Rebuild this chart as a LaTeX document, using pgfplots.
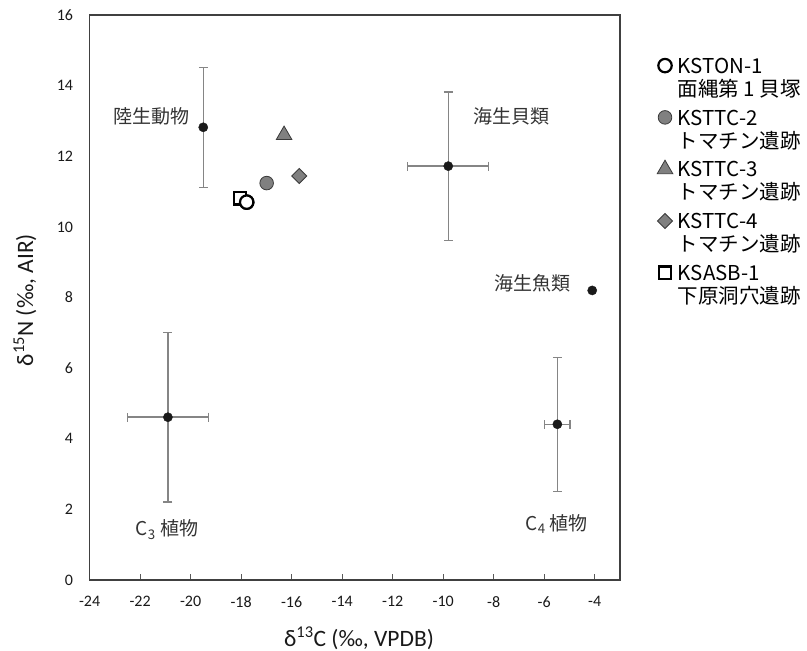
\documentclass[border=0pt]{standalone}
\usepackage{fontspec}
\setmainfont{Carlito}
\newfontfamily\jp{Noto Sans CJK JP}
\usepackage{pgfplots}
\pgfplotsset{compat=1.18}
\definecolor{mkgray}{HTML}{808080}
\definecolor{ebgray}{HTML}{858585}
\definecolor{edge}{HTML}{3A3A3A}
\definecolor{dotc}{HTML}{1A1A1A}
\pgfplotsset{
  mymarks/.style={only marks,
    legend image code/.code={\draw[mark repeat=2,mark phase=2,##1] plot coordinates {(0pt,0pt)(7pt,0pt)(14pt,0pt)};}},
}
\begin{document}
\begin{tikzpicture}
\useasboundingbox (0,0) rectangle (807pt,651pt);
\begin{axis}[
  at={(89.6pt,71pt)}, anchor=south west,
  width=530.4pt, height=565pt, scale only axis,
  xmin=-24, xmax=-3, ymin=0, ymax=16,
  xtick={-24,-22,...,-4},
  xticklabels={-24,-22,-20,-18,-16,-14,-12,-10,-8,-6,-4},
  ytick={0,2,...,16},
  yticklabels={0,2,4,6,8,10,12,14,16},
  xtick pos=left, tick align=inside, major tick length=6pt,
  xtick style={draw=black!65, line width=1pt},
  ytick style={draw=none},
  axis line style={draw=black!75, line width=1.3pt},
  ticklabel style={font=\fontsize{16}{19}\selectfont, text=black!90},
  xticklabel style={yshift=-13pt},
  yticklabel style={xshift=-13pt},
  xlabel={δ\textsuperscript{13}C (‰, VPDB)},
  ylabel={δ\textsuperscript{15}N (‰, AIR)},
  label style={font=\fontsize{23.5}{27}\selectfont, text=black!90},
  xlabel style={at={(axis description cs:0.508,-0.1027)}, anchor=center},
  ylabel style={at={(axis description cs:-0.1218,0.4956)}, anchor=center},
  clip=false,
  legend style={draw=none, fill=none, at={(1.0698,0.927)}, anchor=north west,
    font=\jp\fontsize{20.5}{24}\selectfont, row sep=33.5pt, column sep=5pt,
    inner sep=0pt, nodes={inner sep=0pt}, cells={anchor=west}},
]
% error bars (both directions)
\addplot[only marks, mark=none, forget plot,
  error bars/.cd, x dir=both, x explicit, y dir=both, y explicit,
  error bar style={draw=ebgray, line width=1.5pt},
  error mark options={draw=ebgray, rotate=90, mark size=4.5pt, line width=1.3pt}]
  table[x=x, y=y, x error=ex, y error=ey] {
x y ex ey
-9.8 11.72 1.6 2.1
-20.9 4.61 1.6 2.4
-5.48 4.41 0.5 1.9
};
% error bars (y only)
\addplot[only marks, mark=none, forget plot,
  error bars/.cd, y dir=both, y explicit,
  error bar style={draw=ebgray, line width=1.5pt},
  error mark options={draw=ebgray, rotate=90, mark size=4.5pt, line width=1.3pt}]
  table[x=x, y=y, y error=ey] {
x y ey
-19.5 12.82 1.7
};
% reference group means
\addplot[only marks, mark=*, mark size=4.6pt, forget plot,
  mark options={fill=dotc, draw=dotc}]
  table {
x y
-19.5 12.82
-9.8 11.72
-4.1 8.2
-20.9 4.61
-5.48 4.41
};
% samples
\addplot[mymarks, mark=*, mark size=6.7pt,
  mark options={fill=white, draw=black, line width=2.2pt}]
  coordinates {(-17.78,10.70)};
\addlegendentry{\strut\rlap{KSTON-1}\raisebox{-23pt}[0pt][0pt]{面縄第 1 貝塚}}
\addplot[mymarks, mark=*, mark size=6.8pt,
  mark options={fill=mkgray, draw=edge, line width=0.8pt}]
  coordinates {(-16.99,11.24)};
\addlegendentry{\strut\rlap{KSTTC-2}\raisebox{-23pt}[0pt][0pt]{トマチン遺跡}}
\addplot[mymarks, mark=triangle*, mark size=9pt,
  mark options={fill=mkgray, draw=edge, line width=0.8pt}]
  coordinates {(-16.30,12.60)};
\addlegendentry{\strut\rlap{KSTTC-3}\raisebox{-23pt}[0pt][0pt]{トマチン遺跡}}
\addplot[mymarks, mark=square*, mark size=5.3pt,
  mark options={fill=mkgray, draw=edge, line width=0.8pt, rotate=45}]
  coordinates {(-15.70,11.44)};
\addlegendentry{\strut\rlap{KSTTC-4}\raisebox{-23pt}[0pt][0pt]{トマチン遺跡}}
\addplot[mymarks, mark=square*, mark size=6.2pt,
  mark options={fill=white, draw=black, line width=2.2pt}]
  coordinates {(-18.05,10.81)};
\addlegendentry{\strut\rlap{KSASB-1}\raisebox{-23pt}[0pt][0pt]{下原洞穴遺跡}}
% redraw KSTON-1 on top of the square
\addplot[only marks, forget plot, mark=*, mark size=6.7pt,
  mark options={fill=white, draw=black, line width=2.2pt}]
  coordinates {(-17.78,10.70)};
% group labels
\node[font=\jp\fontsize{19}{22}\selectfont, text=black!80] at (axis cs:-21.53,13.12) {陸生動物};
\node[font=\jp\fontsize{19}{22}\selectfont, text=black!80] at (axis cs:-7.29,13.12) {海生貝類};
\node[font=\jp\fontsize{19}{22}\selectfont, text=black!80] at (axis cs:-6.45,8.41) {海生魚類};
\node[font=\jp\fontsize{19}{22}\selectfont, text=black!80] at (axis cs:-20.94,1.42) {C\textsubscript{3} 植物};
\node[font=\jp\fontsize{19}{22}\selectfont, text=black!80] at (axis cs:-5.50,1.59) {C\textsubscript{4} 植物};
\end{axis}
\end{tikzpicture}
\end{document}
